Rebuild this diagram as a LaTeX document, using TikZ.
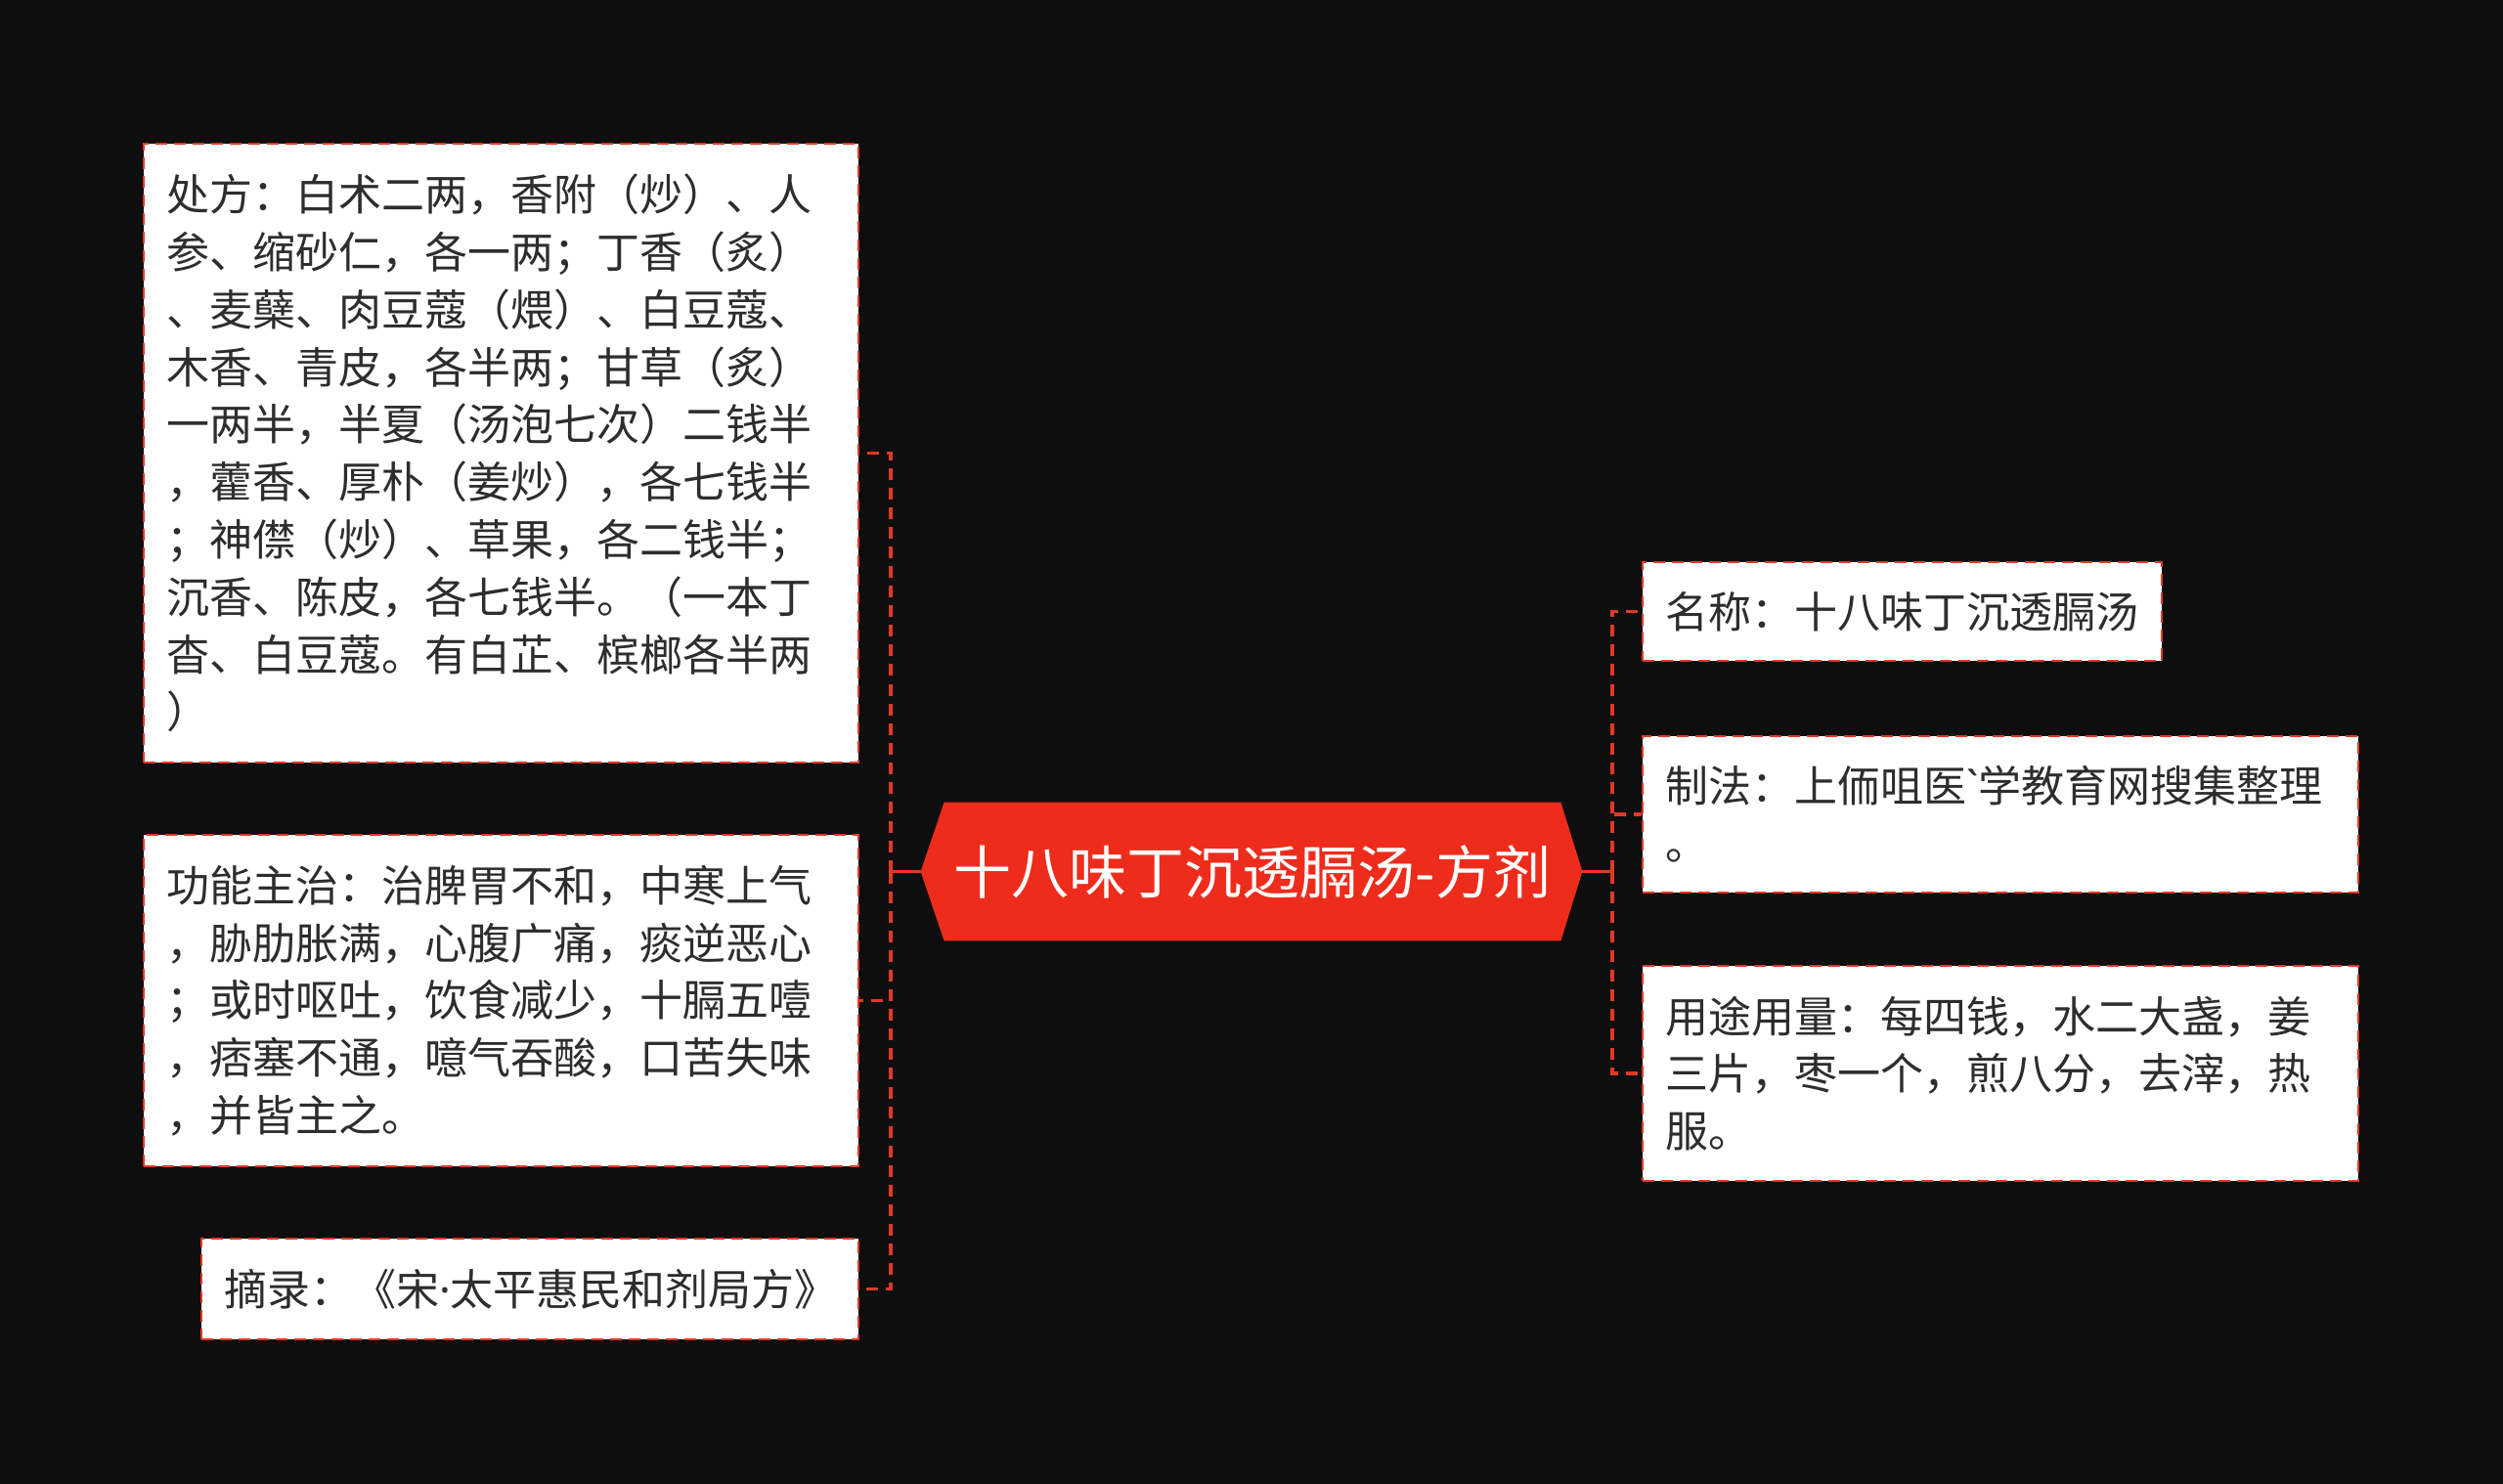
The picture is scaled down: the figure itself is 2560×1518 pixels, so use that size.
\documentclass[tikz,border=0pt]{standalone}
\usepackage{fontspec}
\setmainfont{Noto Sans CJK SC}[Ligatures=TeXOff]
\newfontfamily\latinfont{Noto Sans}[Ligatures=TeXOff]
\usetikzlibrary{backgrounds,calc}
\definecolor{bgc}{RGB}{14,14,14}
\definecolor{redc}{RGB}{238,44,28}
\definecolor{linec}{RGB}{226,56,38}
\definecolor{txt}{RGB}{45,45,45}
\begin{document}
\begin{tikzpicture}[x=0.5pt,y=-0.5pt,
  leaf/.style={rectangle, fill=white, draw=linec, line width=1.2pt,
    dash pattern=on 6pt off 3.5pt, inner xsep=11.5pt, inner ysep=3pt,
    align=left, text=txt, font=\fontsize{22pt}{29.4pt}\selectfont},
  stem/.style={draw=linec, line width=1.9pt},
  branch/.style={draw=linec, line width=1.9pt, dash pattern=on 6pt off 4pt},
  hub/.style={text=white, font=\fontsize{29.5pt}{35pt}\selectfont,
    minimum width=315pt, minimum height=70.5pt, inner sep=0pt},
]
\useasboundingbox (0,0) rectangle (2560,1518);

\node[leaf, text width=342.5pt, minimum height=316.5pt] (b1) at (512.5,463.5)
 {处方：白术二两，香附（炒）、人\\
  参、缩砂仁，各一两；丁香（炙）\\
  、麦蘖、肉豆蔻（煨）、白豆蔻、\\
  木香、青皮，各半两；甘草（炙）\\
  一两半，半夏（汤泡七次）二钱半\\
  ，藿香、厚朴（姜炒），各七钱半\\
  ；神僸（炒）、草果，各二钱半；\\
  沉香、陈皮，各七钱半。（一本丁\\
  杳、白豆蔻。有白芷、槟榔各半两\\
  ）};

\node[leaf, text width=342.5pt, minimum height=169.5pt] (b2) at (512.5,1023.5)
 {功能主治：治脾胃不和，中寒上气\\
  ，胁肋胀满，心腹广痛，痰逆恶心\\
  ；或时呕吐，饮食减少，十膈五噎\\
  ，痞塞不通，噫气吞酸，口苦失味\\
  ，并皆主之。};

\node[leaf, text width=313pt, minimum height=51.5pt] (b3) at (542,1318.5)
 {摘录：《宋{\latinfont ·}太平惠民和剂局方》};

\node[leaf, text width=242.5pt, minimum height=50.5pt] (r1) at (1945.5,625.5)
 {名称：十八味丁沉透膈汤};

\node[leaf, text width=343pt, minimum height=80pt] (r2) at (2046,833)
 {制法：上侕咀医{\latinfont `}学教育网搜集整理\\
  。};

\node[leaf, text width=343pt, minimum height=110pt] (r3) at (2046,1098)
 {用途用量：每四钱，水二大盏，姜\\
  三片，枣一个，煎八分，去滓，热\\
  服。};

\node[hub] (c) at (1281,891.5) {十八味丁沉透膈汤-方剂};
\coordinate (cl) at ($(c.west)+(-24,0)$);
\coordinate (cr) at ($(c.east)+(22,0)$);
\coordinate (jl) at (911,891.5);
\coordinate (jr) at (1649,891.5);

\begin{pgfonlayer}{background}
  \fill[bgc] (0,0) rectangle (2560,1518);
  \fill[redc] (c.north west) -- (c.north east) -- (cr) -- (c.south east)
    -- (c.south west) -- (cl) -- cycle;
\end{pgfonlayer}

\draw[stem] (cl) -- (jl);
\draw[branch] (jl) |- (b1);
\draw[branch] (jl) |- (b2);
\draw[branch] (jl) |- (b3);

\draw[stem] (cr) -- (jr);
\draw[branch] (jr) |- (r1);
\draw[branch] (jr) |- (r2);
\draw[branch] (jr) |- (r3);
\end{tikzpicture}
\end{document}
